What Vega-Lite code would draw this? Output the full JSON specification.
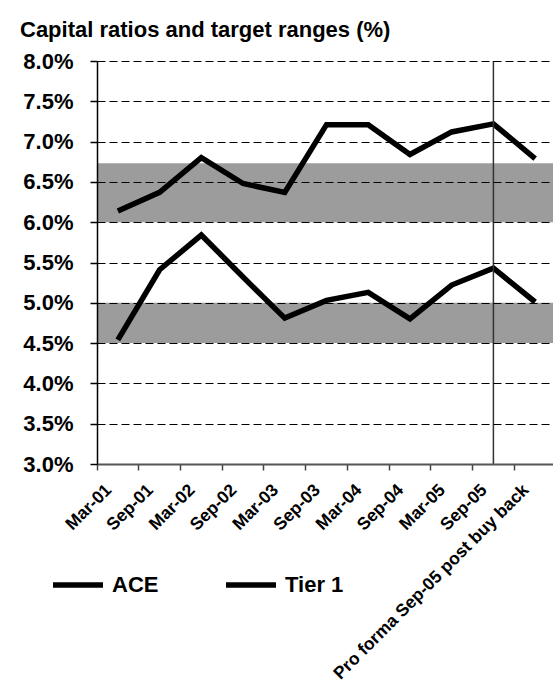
{
  "$schema": "https://vega.github.io/schema/vega-lite/v6.json",
  "autosize": "none",
  "width": 459,
  "height": 403,
  "padding": {"left": 97, "top": 61, "right": 0, "bottom": 227},
  "background": "white",
  "title": {
    "text": "Capital ratios and target ranges (%)",
    "anchor": "start",
    "frame": "group",
    "font": "Liberation Sans",
    "fontSize": 22,
    "fontWeight": "bold",
    "color": "black",
    "dx": -77,
    "offset": 8
  },
  "config": {
    "view": {"stroke": null},
    "font": "Liberation Sans"
  },
  "layer": [
    {
      "data": {"values": [{"lo": 6.0, "hi": 6.73}, {"lo": 4.5, "hi": 5.0}]},
      "mark": {"type": "rect", "fill": "#9c9c9c"},
      "encoding": {
        "y": {"field": "lo", "type": "quantitative", "scale": {"domain": [3, 8], "nice": false, "zero": false}},
        "y2": {"field": "hi"}
      }
    },
    {
      "data": {"values": [
        {"period": "Mar-01", "series": "Tier 1", "value": 6.14},
        {"period": "Sep-01", "series": "Tier 1", "value": 6.37},
        {"period": "Mar-02", "series": "Tier 1", "value": 6.80},
        {"period": "Sep-02", "series": "Tier 1", "value": 6.48},
        {"period": "Mar-03", "series": "Tier 1", "value": 6.37},
        {"period": "Sep-03", "series": "Tier 1", "value": 7.21},
        {"period": "Mar-04", "series": "Tier 1", "value": 7.21},
        {"period": "Sep-04", "series": "Tier 1", "value": 6.84},
        {"period": "Mar-05", "series": "Tier 1", "value": 7.12},
        {"period": "Sep-05", "series": "Tier 1", "value": 7.22},
        {"period": "Pro forma Sep-05 post buy back", "series": "Tier 1", "value": 6.79},
        {"period": "Mar-01", "series": "ACE", "value": 4.54},
        {"period": "Sep-01", "series": "ACE", "value": 5.41},
        {"period": "Mar-02", "series": "ACE", "value": 5.84},
        {"period": "Sep-02", "series": "ACE", "value": 5.32},
        {"period": "Mar-03", "series": "ACE", "value": 4.81},
        {"period": "Sep-03", "series": "ACE", "value": 5.03},
        {"period": "Mar-04", "series": "ACE", "value": 5.13},
        {"period": "Sep-04", "series": "ACE", "value": 4.80},
        {"period": "Mar-05", "series": "ACE", "value": 5.22},
        {"period": "Sep-05", "series": "ACE", "value": 5.43},
        {"period": "Pro forma Sep-05 post buy back", "series": "ACE", "value": 5.01}
      ]},
      "mark": {"type": "line", "strokeWidth": 5.5},
      "encoding": {
        "x": {
          "field": "period", "type": "nominal",
          "sort": ["Mar-01","Sep-01","Mar-02","Sep-02","Mar-03","Sep-03","Mar-04","Sep-04","Mar-05","Sep-05","Pro forma Sep-05 post buy back"],
          "scale": {"type": "band", "paddingInner": 0, "paddingOuter": 0},
          "axis": {
            "title": null,
            "bandPosition": 0,
            "labelAngle": -45,
            "labelAlign": "right",
            "labelBaseline": "middle",
            "labelFont": "Liberation Sans",
            "labelFontSize": 17.5,
            "labelFontWeight": "bold",
            "labelColor": "black",
            "labelOffset": -9,
            "labelPadding": 17,
            "labelLimit": 400,
            "tickSize": 6,
            "tickColor": "#444",
            "tickWidth": 1.5,
            "domainColor": "#555",
            "domainWidth": 2,
            "grid": false,
            "zindex": 1
          }
        },
        "y": {
          "field": "value", "type": "quantitative",
          "scale": {"domain": [3, 8], "nice": false, "zero": false},
          "axis": {
            "title": null,
            "values": [3, 3.5, 4, 4.5, 5, 5.5, 6, 6.5, 7, 7.5, 8],
            "labelExpr": "format(datum.value, '.1f') + '%'",
            "labelFont": "Liberation Sans",
            "labelFontSize": 22,
            "labelFontWeight": "bold",
            "labelColor": "black",
            "labelPadding": 17,
            "tickSize": 7,
            "tickColor": "black",
            "tickWidth": 1.5,
            "domainColor": "black",
            "domainWidth": 1.5,
            "grid": true,
            "gridColor": "black",
            "gridWidth": 1.2,
            "gridDash": [8, 4],
            "zindex": 1
          }
        },
        "color": {
          "field": "series", "type": "nominal",
          "scale": {"domain": ["ACE", "Tier 1"], "range": ["black", "black"]},
          "legend": {
            "title": null,
            "orient": "none",
            "direction": "horizontal",
            "legendX": -47,
            "legendY": 496,
            "symbolType": "stroke",
            "symbolSize": 2500,
            "symbolStrokeWidth": 5.5,
            "labelFont": "Liberation Sans",
            "labelFontSize": 22,
            "labelFontWeight": "bold",
            "labelColor": "black",
            "labelOffset": 6,
            "columnPadding": 56,
            "symbolOffset": 0
          }
        }
      }
    },
    {
      "data": {"values": [{"period": "Sep-05"}]},
      "mark": {"type": "rule", "color": "#333", "strokeWidth": 1.5},
      "encoding": {
        "x": {
          "field": "period", "type": "nominal",
          "sort": ["Mar-01","Sep-01","Mar-02","Sep-02","Mar-03","Sep-03","Mar-04","Sep-04","Mar-05","Sep-05","Pro forma Sep-05 post buy back"]
        }
      }
    }
  ]
}
